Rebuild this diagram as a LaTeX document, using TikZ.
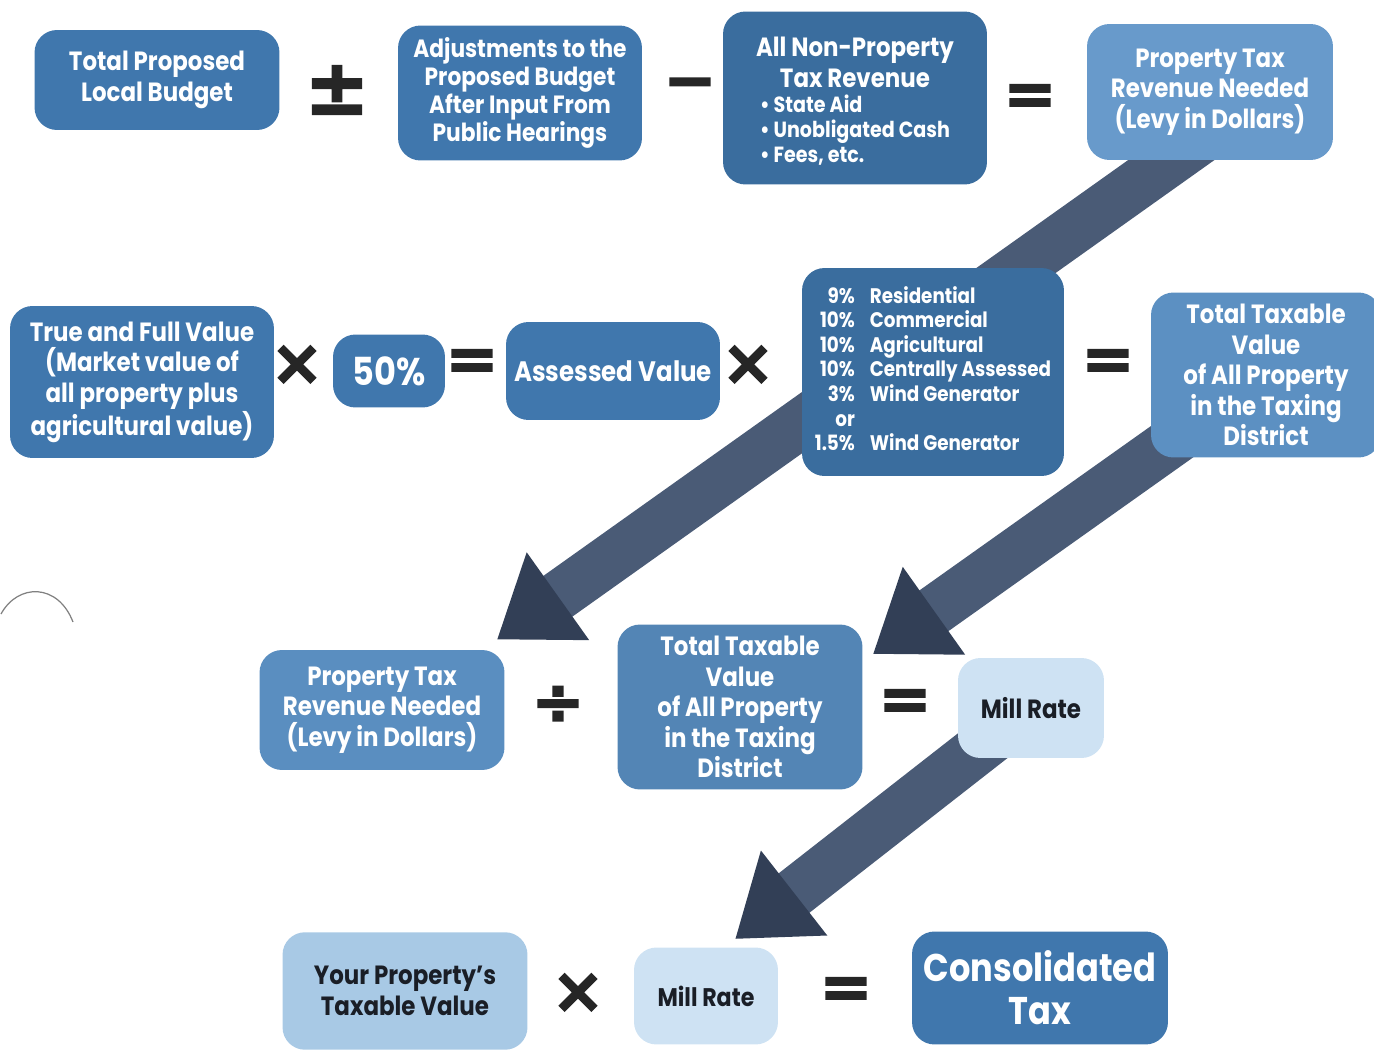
\documentclass[tikz,border=0pt]{standalone}
\usepackage{fontspec}
\setmainfont{Poppins}[FakeStretch=0.87]
\newfontfamily\opfont{DejaVu Sans Bold}[FakeBold=2.5]
\usetikzlibrary{arrows.meta,backgrounds,calc}

\definecolor{boxmid}{RGB}{64,119,173}
\definecolor{boxdark}{RGB}{58,109,158}
\definecolor{boxlight}{RGB}{104,154,203}
\definecolor{boxsky}{RGB}{92,144,194}
\definecolor{boxsoft}{RGB}{90,142,192}
\definecolor{paleblue}{RGB}{168,201,229}
\definecolor{millcol}{RGB}{206,226,243}
\definecolor{flowbody}{RGB}{74,91,118}
\definecolor{flowhead}{RGB}{50,63,86}
\definecolor{opcol}{RGB}{38,38,38}
\definecolor{inktext}{RGB}{26,30,38}

\tikzset{
  box/.style={rounded corners=0.45cm, fill=boxmid, text=white, align=center,
    inner sep=0pt, font=\fontsize{15}{17.4}\selectfont\bfseries},
  oper/.style={text=opcol, inner sep=0pt, font=\opfont\fontsize{36}{36}\selectfont},
  flow/.style={draw=flowbody, line width=1cm,
    -{Triangle[width=2.05cm,length=1.5cm,color=flowhead]}},
}

\begin{document}
\begin{tikzpicture}[x=0.02cm, y=-0.02cm]
  \useasboundingbox (0,0) rectangle (1374,1055);

  % first row
  \node[box, minimum width=4.9cm, minimum height=2cm] (budget) at (157,80)
    {Total Proposed\\Local Budget};
  \node[oper, font=\opfont\fontsize{44}{44}\selectfont] (pm) at (337,90) {±};
  \node[box, minimum width=4.88cm, minimum height=2.7cm,
    font=\fontsize{14.2}{16}\selectfont\bfseries] (adjust) at (520,93)
    {Adjustments to the\\Proposed Budget\\After Input From\\Public Hearings};
  \node[oper] (minus) at (690,90) {−};
  \node[box, fill=boxdark, minimum width=5.28cm, minimum height=3.46cm] (nonprop) at (855,98)
    {\rule{0pt}{17.5pt}All Non-Property\\Tax Revenue\\[-3pt]{\fontsize{12.5}{14}\selectfont
     \begin{tabular}[t]{@{}l@{}}• State Aid\\• Unobligated Cash\\• Fees, etc.\end{tabular}}};
  \node[oper] (eqa) at (1030,100) {=};
  \node[box, fill=boxlight, minimum width=4.92cm, minimum height=2.72cm] (levytop) at (1210,92)
    {Property Tax\\Revenue Needed\\(Levy in Dollars)};

  % second row
  \node[box, minimum width=5.28cm, minimum height=3.04cm] (fullval) at (142,382)
    {True and Full Value\\(Market value of\\all property plus\\agricultural value)};
  \node[oper] (timesa) at (297,365) {×};
  \node[box, minimum width=2.24cm, minimum height=1.46cm,
    font=\fontsize{22}{24}\selectfont\bfseries] (half) at (389,371) {50\%};
  \node[oper] (eqb) at (472,365) {=};
  \node[box, minimum width=4.28cm, minimum height=1.96cm,
    font=\fontsize{16}{18}\selectfont\bfseries] (assessed) at (613,371) {Assessed Value};
  \node[oper] (timesb) at (748,365) {×};
  \node[box, fill=boxdark, minimum width=5.24cm, minimum height=4.16cm,
    font=\fontsize{12}{14}\selectfont\bfseries] (rates) at (933,372)
    {\begin{tabular}{@{}r@{\hspace{0.3cm}}l@{}}
      9\% & Residential\\ 10\% & Commercial\\ 10\% & Agricultural\\
      10\% & Centrally Assessed\\ 3\% & Wind Generator\\ or & \\
      1.5\% & Wind Generator
     \end{tabular}};
  \node[oper] (eqc) at (1108,365) {=};
  \node[box, fill=boxsky, minimum width=4.6cm, minimum height=3.3cm] (taxable) at (1266,375)
    {Total Taxable\\Value\\of All Property\\in the Taxing\\District};

  % third row
  \node[box, fill=boxsoft, minimum width=4.9cm, minimum height=2.4cm] (levy) at (382,710)
    {Property Tax\\Revenue Needed\\(Levy in Dollars)};
  \node[oper] (divide) at (558,705) {÷};
  \node[box, fill=boxmid!90!white, minimum width=4.9cm, minimum height=3.3cm] (taxabletwo) at (740,707)
    {Total Taxable\\Value\\of All Property\\in the Taxing\\District};
  \node[oper] (eqd) at (905,705) {=};
  \node[box, fill=millcol, text=inktext, minimum width=2.92cm, minimum height=2cm,
    font=\fontsize{15}{17}\selectfont\bfseries] (mill) at (1031,708) {Mill Rate};

  % last row
  \node[box, fill=paleblue, text=inktext, minimum width=4.9cm, minimum height=2.35cm,
    font=\fontsize{15}{17.4}\selectfont\bfseries] (yours) at (405,991)
    {Your Property's\\Taxable Value};
  \node[oper] (timesc) at (578,993) {×};
  \node[box, fill=millcol, text=inktext, minimum width=2.88cm, minimum height=1.94cm,
    font=\fontsize{14.5}{16}\selectfont\bfseries] (milltwo) at (706,996) {Mill Rate};
  \node[oper] (eqe) at (846,993) {=};
  \node[box, minimum width=5.12cm, minimum height=2.26cm,
    font=\fontsize{22}{24.5}\selectfont\bfseries] (consol) at (1040,988)
    {Consolidated\\Tax};

  % big arrows behind the boxes
  \begin{scope}[on background layer]
    \draw[flow] ($(levytop.center)+(57,0)$) -- ($(levy.north east)+(-8,-10)$);
    \draw[flow] (taxable.center) -- ($(taxabletwo.north east)+(10,30)$);
    \draw[flow] (mill.center) -- ($(milltwo.north)+(29,-8)$);
  \end{scope}

  \draw[gray, line width=0.7pt] (1,614) .. controls (18,583) and (58,583) .. (73,622);
\end{tikzpicture}
\end{document}
